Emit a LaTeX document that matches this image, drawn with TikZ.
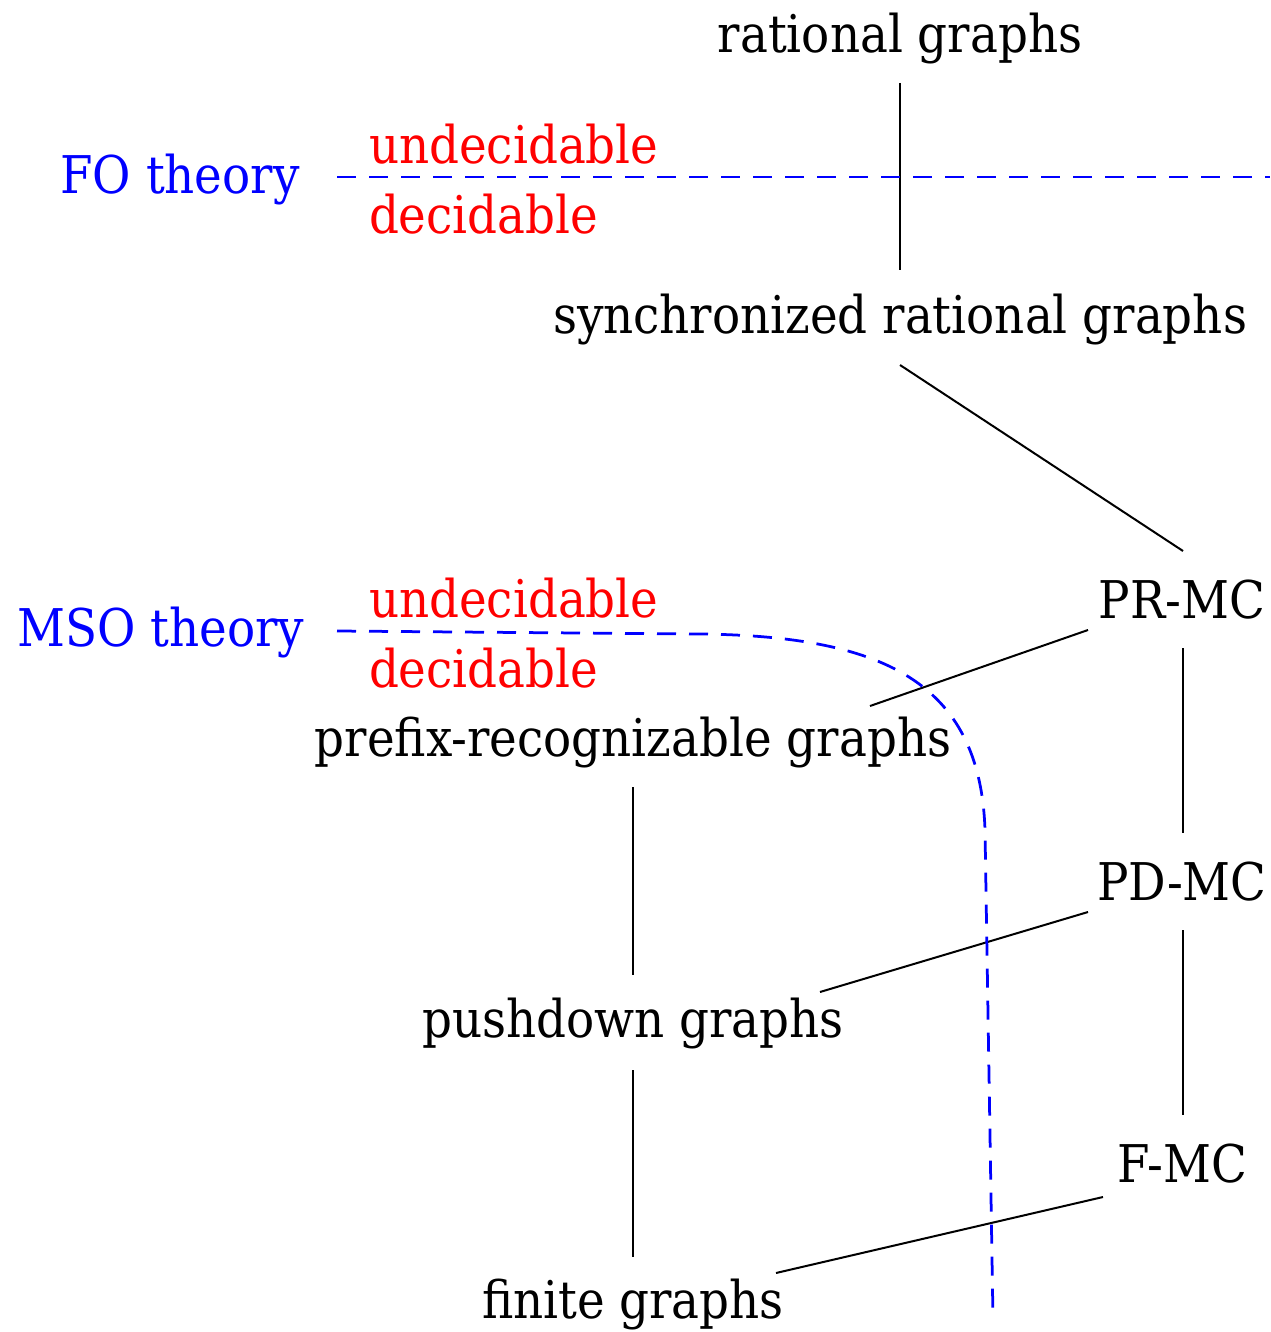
\documentclass[tikz,border=0pt]{standalone}
\usepackage{fontspec}
\setmainfont{DejaVu Serif Condensed}
\usetikzlibrary{calc}
\begin{document}
\begin{tikzpicture}[x=0.2pt,y=-0.2pt,
  lbl/.style={inner sep=0pt,font=\fontsize{10.4}{12}\selectfont},
  theory/.style={lbl,text=blue},
  side/.style={lbl,text=red,anchor=west},
  edge/.style={line width=0.4pt,black},
  border/.style={blue,line width=0.55pt,dash pattern=on 3.8pt off 2.6pt}]
\useasboundingbox (0,0) rectangle (1270,1332);
% nodes
\node[lbl] (rat) at (900,39) {rational graphs};
\node[lbl] (sync) at (900,320) {synchronized rational graphs};
\node[lbl] (prmc) at (1182,600) {PR-MC};
\node[lbl] (pdmc) at (1182,882) {PD-MC};
\node[lbl] (fmc) at (1182,1164) {F-MC};
\node[lbl] (prefix) at (633,743) {prefix-recognizable graphs};
\node[lbl] (push) at (633,1024) {pushdown graphs};
\node[lbl] (fin) at (633,1305) {finite graphs};
\node[theory] (fo) at (180,180) {FO theory};
\node[theory] (mso) at (161,633) {MSO theory};
\node[side] (fou) at (368,144) {undecidable};
\node[side] (fod) at (368,214) {decidable};
\node[side] (msou) at (368,598) {undecidable};
\node[side] (msod) at (368,668) {decidable};
% connectors
\draw[edge] ($(rat)+(0,44)$) -- ($(sync)+(0,-50)$);
\draw[edge] ($(sync)+(0,45)$) -- ($(prmc)+(1,-49)$);
\draw[edge] ($(prmc)+(-94,30)$) -- ($(prefix)+(237,-37)$);
\draw[edge] ($(prmc)+(1,48)$) -- ($(pdmc)+(1,-49)$);
\draw[edge] ($(prefix)+(0,44)$) -- ($(push)+(0,-49)$);
\draw[edge] ($(pdmc)+(-94,30)$) -- ($(push)+(187,-32)$);
\draw[edge] ($(pdmc)+(1,48)$) -- ($(fmc)+(1,-49)$);
\draw[edge] ($(push)+(0,46)$) -- ($(fin)+(0,-48)$);
\draw[edge] ($(fmc)+(-79,33)$) -- ($(fin)+(143,-32)$);
% theory borders
\coordinate (foL) at (337,177);
\coordinate (foR) at (1270,177);
\draw[border] (foL) -- (foR);
\coordinate (msoL) at (337,631);
\coordinate (msoA) at (700,634);
\coordinate (msoB) at (985,830);
\coordinate (msoE) at (993,1320);
\draw[border] (msoL) -- (msoA) .. controls (880,636) and (980,680) .. (msoB) -- (msoE);
\end{tikzpicture}
\end{document}
